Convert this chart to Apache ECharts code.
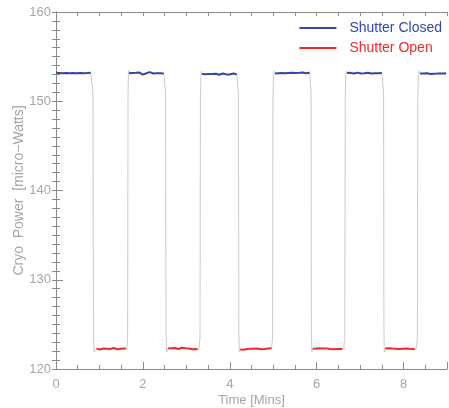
<!DOCTYPE html>
<html>
<head>
<meta charset="utf-8">
<script src="https://cdn.jsdelivr.net/npm/echarts@6/dist/echarts.min.js"></script>
<style>
  html, body { margin: 0; padding: 0; background: #ffffff; }
  #chart { width: 449px; height: 408px; }
</style>
</head>
<body>
<div id="chart"></div>
<script>
// Cryo power readings, sampled every 0.04 min on each stable plateau
const sampleStep = 0.04;

const closedStarts = [0.00, 1.68, 3.36, 5.04, 6.70, 8.38];
const closedPower = [
  [153.18,153.12,153.16,153.20,153.14,153.10,153.17,153.21,153.15,153.11,153.16,153.19,153.13,153.22,153.17,153.12,153.15,153.20,153.16,153.13,153.18],
  [153.14,153.19,153.16,153.12,153.18,153.15,153.21,153.08,152.98,153.05,153.14,153.20,153.26,153.15,153.11,153.17,153.14,153.19,153.13,153.16,153.12],
  [153.05,153.10,153.02,152.98,153.06,153.12,153.04,153.00,153.08,153.03,152.97,153.05,153.11,153.06,153.01,153.07,152.99,153.04,153.10,153.05,153.02],
  [153.12,153.18,153.14,153.20,153.16,153.11,153.15,153.22,153.17,153.13,153.19,153.24,153.16,153.12,153.18,153.14,153.21,153.17,153.13,153.16,153.19],
  [153.16,153.12,153.18,153.14,153.10,153.17,153.21,153.15,153.11,153.18,153.13,153.16,153.20,153.14,153.10,153.17,153.13,153.19,153.15,153.12,153.16],
  [153.10,153.16,153.12,153.08,153.14,153.11,153.06,153.13,153.09,153.15,153.10,153.07,153.12,153.16,153.11,153.14]
];

const openStarts = [0.93, 2.58, 4.24, 5.91, 7.58];
const openPower = [
  [122.28,122.22,122.18,122.25,122.30,122.21,122.27,122.33,122.24,122.29,122.35,122.26,122.22,122.30,122.27,122.24,122.31,122.28],
  [122.30,122.25,122.33,122.27,122.36,122.29,122.24,122.32,122.38,122.28,122.33,122.26,122.30,122.25,122.21,122.28,122.24,122.20],
  [122.18,122.22,122.15,122.20,122.25,122.21,122.27,122.23,122.28,122.24,122.30,122.26,122.22,122.28,122.25,122.31,122.29,122.42,122.33],
  [122.28,122.24,122.30,122.27,122.33,122.26,122.29,122.25,122.31,122.27,122.23,122.28,122.22,122.18,122.24,122.20,122.26,122.22],
  [122.30,122.40,122.33,122.26,122.29,122.23,122.27,122.32,122.25,122.21,122.28,122.24,122.30,122.35,122.27,122.31,122.25,122.22]
];

// Shutter transitions: [time, power] readings while the shutter moves
const fallTrace = [
  [[0.83,153.14],[0.85,151.0],[0.862,124.5],[0.875,121.9],[0.90,121.8]],
  [[2.50,153.12],[2.52,151.0],[2.532,124.5],[2.545,121.9],[2.565,121.8]],
  [[4.18,153.02],[4.20,151.0],[4.208,124.5],[4.218,121.9],[4.23,121.8]],
  [[5.855,153.15],[5.87,151.0],[5.878,124.5],[5.888,121.9],[5.90,121.8]],
  [[7.52,153.14],[7.54,151.0],[7.548,124.5],[7.558,121.9],[7.57,121.8]]
];
const riseTrace = [
  [[1.63,122.30],[1.648,123.5],[1.658,150.5],[1.668,153.0],[1.675,153.45]],
  [[3.29,122.22],[3.315,123.5],[3.325,150.5],[3.338,153.0],[3.35,153.4]],
  [[4.975,122.30],[4.985,123.5],[4.995,150.5],[5.008,153.0],[5.025,153.4]],
  [[6.62,122.22],[6.648,123.5],[6.658,150.5],[6.672,153.0],[6.69,153.4]],
  [[8.29,122.20],[8.318,123.5],[8.328,150.5],[8.342,153.0],[8.36,153.4]]
];

const xTickLabels = ['0', '2', '4', '6', '8'];
const yTickLabels = ['120', '130', '140', '150', '160'];

const closedColor = '#3347a8';
const openColor = '#ee2b2b';
const traceColor = '#cccccc';
const axisColor = '#8a8a8a';
const labelColor = '#a6a6a6';
const font = 'Liberation Sans, Arial, sans-serif';

function plateauPoints(start, values) {
  return values.map((v, i) => [+(start + i * sampleStep).toFixed(3), v]);
}

const closedRuns = closedStarts.map((s, i) => plateauPoints(s, closedPower[i]));
const openRuns = openStarts.map((s, i) => plateauPoints(s, openPower[i]));

// Full trace in time order: closed, fall, open, rise, closed ...
const fullTrace = [];
closedRuns.forEach((run, i) => {
  fullTrace.push(...run);
  if (i < openRuns.length) {
    fullTrace.push(...fallTrace[i]);
    fullTrace.push(...openRuns[i]);
    fullTrace.push(...riseTrace[i]);
  }
});

const series = [{
  name: 'trace',
  type: 'line',
  data: fullTrace,
  showSymbol: false,
  silent: true,
  lineStyle: { color: traceColor, width: 1 },
  z: 1
}];
closedRuns.forEach(run => series.push({
  name: 'Shutter Closed',
  type: 'line',
  data: run,
  showSymbol: false,
  color: closedColor,
  lineStyle: { color: closedColor, width: 2 },
  z: 3
}));
openRuns.forEach(run => series.push({
  name: 'Shutter Open',
  type: 'line',
  data: run,
  showSymbol: false,
  color: openColor,
  lineStyle: { color: openColor, width: 2 },
  z: 3
}));

const chart = echarts.init(document.getElementById('chart'), null, { renderer: 'canvas' });
chart.setOption({
  animation: false,
  backgroundColor: '#ffffff',
  textStyle: { fontFamily: font },
  grid: { left: 56, right: 2, top: 12, bottom: 39, containLabel: false, outerBoundsMode: 'none' },
  legend: {
    data: [
      { name: 'Shutter Closed', textStyle: { color: closedColor } },
      { name: 'Shutter Open', textStyle: { color: openColor } }
    ],
    orient: 'vertical',
    right: 7,
    top: 20,
    padding: 0,
    icon: 'rect',
    itemWidth: 37,
    itemHeight: 2,
    itemGap: 4,
    align: 'left',
    textStyle: { fontSize: 14, fontFamily: font, lineHeight: 16, padding: [0, 0, 0, 8] }
  },
  xAxis: [{
    type: 'value',
    min: 0, max: 9, interval: 2,
    name: 'Time [Mins]',
    nameLocation: 'middle',
    nameGap: 25,
    nameMoveOverlap: false,
    nameTextStyle: { color: labelColor, fontSize: 13, fontFamily: font },
    axisLine: { show: true, lineStyle: { color: axisColor, width: 1 } },
    axisTick: { show: true, inside: true, length: 7, lineStyle: { color: axisColor } },
    minorTick: { show: true, splitNumber: 4, length: 4, lineStyle: { color: axisColor } },
    splitLine: { show: false },
    axisLabel: {
      color: labelColor, fontSize: 13, fontFamily: font, margin: 9,
      showMaxLabel: false,
      formatter: v => (xTickLabels.includes(String(v)) ? String(v) : '')
    }
  }, {
    type: 'value',
    position: 'top',
    min: 0, max: 9, interval: 0.5,
    axisLine: { show: true, lineStyle: { color: axisColor, width: 1 } },
    axisTick: { show: true, inside: true, length: 4, lineStyle: { color: axisColor } },
    splitLine: { show: false },
    axisLabel: { show: false }
  }],
  yAxis: [{
    type: 'value',
    min: 120, max: 160, interval: 10,
    name: 'Cryo  Power  [micro\u2212Watts]',
    nameLocation: 'middle',
    nameGap: 30,
    nameRotate: 90,
    nameMoveOverlap: false,
    nameTextStyle: { color: labelColor, fontSize: 14, fontFamily: font },
    axisLine: { show: true, lineStyle: { color: axisColor, width: 1 } },
    axisTick: { show: true, inside: true, length: 7, lineStyle: { color: axisColor } },
    minorTick: { show: true, splitNumber: 10, length: 4, lineStyle: { color: axisColor } },
    splitLine: { show: false },
    axisLabel: {
      color: labelColor, fontSize: 13, fontFamily: font, margin: 5,
      formatter: v => (yTickLabels.includes(String(v)) ? String(v) : '')
    }
  }, {
    type: 'value',
    position: 'right',
    min: 120, max: 160, interval: 1,
    axisLine: { show: true, lineStyle: { color: axisColor, width: 1 } },
    axisTick: { show: true, inside: true, length: 4, lineStyle: { color: axisColor } },
    splitLine: { show: false },
    axisLabel: { show: false }
  }],
  series: series
});
</script>
</body>
</html>
